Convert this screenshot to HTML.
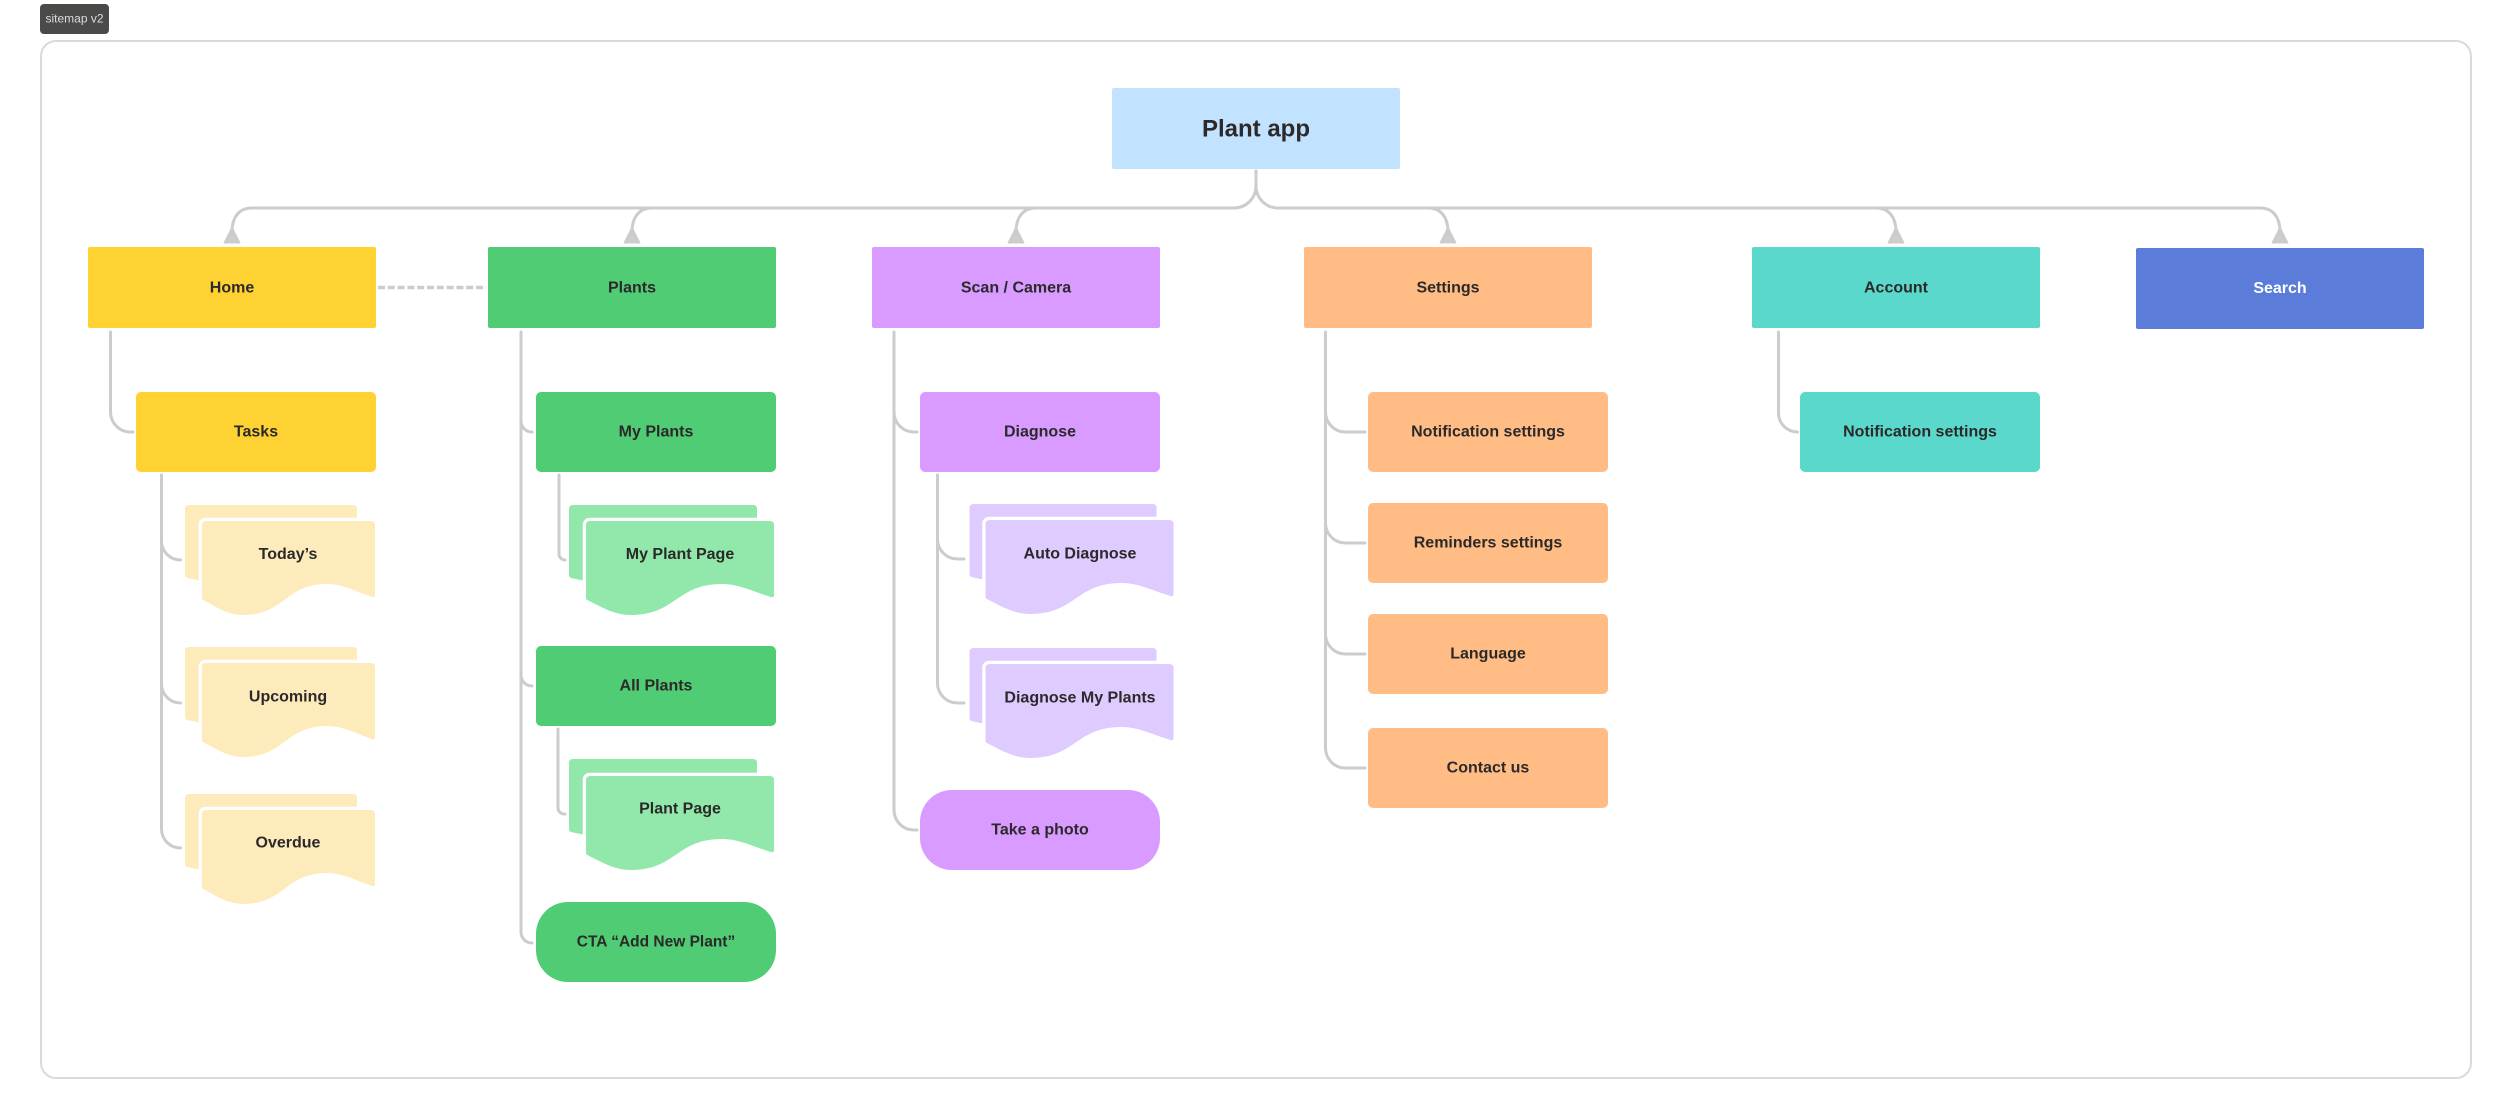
<!DOCTYPE html>
<html>
<head>
<meta charset="utf-8">
<title>Plant app sitemap</title>
<style>
html,body{margin:0;padding:0;background:#fff;width:2512px;height:1120px;overflow:hidden}
svg{display:block}
text{font-family:"Liberation Sans",sans-serif;font-weight:700;font-size:16px;fill:#2b2929;text-anchor:middle;dominant-baseline:central}
.c{fill:none;stroke:#cdcccd;stroke-width:3;stroke-linecap:round}
.a{fill:#cdcccd;stroke:#cdcccd;stroke-width:1;stroke-linejoin:round}
.f{stroke:#fff;stroke-width:6.5;paint-order:stroke;vector-effect:non-scaling-stroke}
</style>
</head>
<body>
<svg width="2512" height="1120" viewBox="0 0 2512 1120" xmlns="http://www.w3.org/2000/svg">
<rect x="40" y="4" width="69" height="30" rx="4" fill="#4a4a48"/>
<text x="74.5" y="18.500" style="font-weight:400;font-size:12px;fill:#dedbe2">sitemap v2</text>
<rect x="41" y="41" width="2430" height="1037" rx="15" fill="#fff" stroke="#dadada" stroke-width="2"/>

<!-- top connectors -->
<path class="c" d="M1256 171V186A22 22 0 0 1 1234 208H252C240 208 232 216 232 232"/>
<path class="c" d="M652 208C640 208 632 216 632 232"/>
<path class="c" d="M1036 208C1024 208 1016 216 1016 232"/>
<path class="c" d="M1256 186A22 22 0 0 0 1278 208H2260C2272 208 2280 216 2280 232"/>
<path class="c" d="M1428 208C1440 208 1448 216 1448 232"/>
<path class="c" d="M1876 208C1888 208 1896 216 1896 232"/>
<path class="a" d="M232 227L240 243H224Z"/>
<path class="a" d="M632 227L640 243H624Z"/>
<path class="a" d="M1016 227L1024 243H1008Z"/>
<path class="a" d="M1448 227L1456 243H1440Z"/>
<path class="a" d="M1896 227L1904 243H1888Z"/>
<path class="a" d="M2280 227L2288 243H2272Z"/>
<path d="M378 287.500H486" fill="none" stroke="#cdcccd" stroke-width="3.500" stroke-dasharray="7 2.800"/>

<!-- tree connectors -->
<path class="c" d="M110.500 332V412A20 20 0 0 0 130.500 432H133"/>
<path class="c" d="M521 332V932A11 11 0 0 0 532 943"/>
<path class="c" d="M521 421A11 11 0 0 0 532 432"/>
<path class="c" d="M521 675A11 11 0 0 0 532 686"/>
<path class="c" d="M161.500 475V829A19 19 0 0 0 180.500 848"/>
<path class="c" d="M161.500 541A19 19 0 0 0 180.500 560"/>
<path class="c" d="M161.500 684A19 19 0 0 0 180.500 703"/>
<path class="c" d="M559 475V554A6 6 0 0 0 565 560"/>
<path class="c" d="M558 729V808A6 6 0 0 0 564 814H565"/>
<path class="c" d="M894 332V810A20 20 0 0 0 914 830H917"/>
<path class="c" d="M894 412A20 20 0 0 0 914 432H917"/>
<path class="c" d="M937.500 475V683A20 20 0 0 0 957.500 703H964"/>
<path class="c" d="M937.500 539A20 20 0 0 0 957.500 559H964"/>
<path class="c" d="M1325.500 332V748A20 20 0 0 0 1345.500 768H1365"/>
<path class="c" d="M1325.500 412A20 20 0 0 0 1345.500 432H1365"/>
<path class="c" d="M1325.500 523A20 20 0 0 0 1345.500 543H1365"/>
<path class="c" d="M1325.500 634A20 20 0 0 0 1345.500 654H1365"/>
<path class="c" d="M1778.500 332V413A19 19 0 0 0 1797.500 432"/>

<!-- root -->
<rect x="1112" y="88" width="288" height="81" rx="2" fill="#c2e3ff"/>
<text x="1256" y="129" style="font-size:24px">Plant app</text>

<!-- level 1 -->
<rect x="88" y="247" width="288" height="81" rx="2" fill="#ffd233"/>
<text x="232" y="288">Home</text>
<rect x="488" y="247" width="288" height="81" rx="2" fill="#4fcc74"/>
<text x="632" y="288">Plants</text>
<rect x="872" y="247" width="288" height="81" rx="2" fill="#d99bff"/>
<text x="1016" y="288">Scan / Camera</text>
<rect x="1304" y="247" width="288" height="81" rx="2" fill="#ffbd85"/>
<text x="1448" y="288">Settings</text>
<rect x="1752" y="247" width="288" height="81" rx="2" fill="#5ad8cc"/>
<text x="1896" y="288">Account</text>
<rect x="2136" y="248" width="288" height="81" rx="2" fill="#5b7dd9"/>
<text x="2280" y="288.500" style="fill:#fff">Search</text>

<!-- level 2 -->
<rect x="136" y="392" width="240" height="80" rx="5" fill="#ffd233"/>
<text x="256" y="432">Tasks</text>
<rect x="536" y="392" width="240" height="80" rx="5" fill="#4fcc74"/>
<text x="656" y="432">My Plants</text>
<rect x="536" y="646" width="240" height="80" rx="5" fill="#4fcc74"/>
<text x="656" y="686">All Plants</text>
<rect x="536" y="902" width="240" height="80" rx="32" fill="#4fcc74"/>
<text x="656" y="942" style="font-size:15.500px">CTA “Add New Plant”</text>
<rect x="920" y="392" width="240" height="80" rx="5" fill="#d99bff"/>
<text x="1040" y="432">Diagnose</text>
<rect x="920" y="790" width="240" height="80" rx="32" fill="#d99bff"/>
<text x="1040" y="830">Take a photo</text>
<rect x="1368" y="392" width="240" height="80" rx="5" fill="#ffbd85"/>
<text x="1488" y="432">Notification settings</text>
<rect x="1368" y="503" width="240" height="80" rx="5" fill="#ffbd85"/>
<text x="1488" y="543">Reminders settings</text>
<rect x="1368" y="614" width="240" height="80" rx="5" fill="#ffbd85"/>
<text x="1488" y="654">Language</text>
<rect x="1368" y="728" width="240" height="80" rx="5" fill="#ffbd85"/>
<text x="1488" y="768">Contact us</text>
<rect x="1800" y="392" width="240" height="80" rx="5" fill="#5ad8cc"/>
<text x="1920" y="432">Notification settings</text>

<!-- yellow stacks -->
<path fill="#feebbc" d="M185 509Q185 505 189 505H353Q357 505 357 509V570H206V582L187 578Q185 577 185 575Z"/>
<path class="f" fill="#feebbc" transform="translate(202 521)" d="M0 4Q0 0 4 0H169Q173 0 173 4V74Q173 77 170 76C150 69 140 63 125 63C83 63 83 94 41 94C25 94 13 85 1 79Q0 78.500 0 76Z"/>
<text x="288" y="554.500">Today’s</text>
<path fill="#feebbc" d="M185 651Q185 647 189 647H353Q357 647 357 651V712H206V724L187 720Q185 719 185 717Z"/>
<path class="f" fill="#feebbc" transform="translate(202 663)" d="M0 4Q0 0 4 0H169Q173 0 173 4V74Q173 77 170 76C150 69 140 63 125 63C83 63 83 94 41 94C25 94 13 85 1 79Q0 78.500 0 76Z"/>
<text x="288" y="697">Upcoming</text>
<path fill="#feebbc" d="M185 798Q185 794 189 794H353Q357 794 357 798V859H206V871L187 867Q185 866 185 864Z"/>
<path class="f" fill="#feebbc" transform="translate(202 810)" d="M0 4Q0 0 4 0H169Q173 0 173 4V74Q173 77 170 76C150 69 140 63 125 63C83 63 83 94 41 94C25 94 13 85 1 79Q0 78.500 0 76Z"/>
<text x="288" y="843">Overdue</text>

<!-- green stacks -->
<path fill="#91e8aa" d="M569 509Q569 505 573 505H753Q757 505 757 509V570H590V582L571 578Q569 577 569 575Z"/>
<path class="f" fill="#91e8aa" transform="translate(586 521) scale(1.087 1)" d="M0 4Q0 0 4 0H169Q173 0 173 4V74Q173 77 170 76C150 69 140 63 125 63C83 63 83 94 41 94C25 94 13 85 1 79Q0 78.500 0 76Z"/>
<text x="680" y="554.500">My Plant Page</text>
<path fill="#91e8aa" d="M569 763Q569 759 573 759H753Q757 759 757 763V824H590V836L571 832Q569 831 569 829Z"/>
<path class="f" fill="#91e8aa" transform="translate(586 776) scale(1.087 1)" d="M0 4Q0 0 4 0H169Q173 0 173 4V74Q173 77 170 76C150 69 140 63 125 63C83 63 83 94 41 94C25 94 13 85 1 79Q0 78.500 0 76Z"/>
<text x="680" y="809">Plant Page</text>

<!-- purple stacks -->
<path fill="#decbff" d="M969.500 508Q969.500 504 973.500 504H1152.500Q1156.500 504 1156.500 508V569H990V581L971.500 577Q969.500 576 969.500 574Z"/>
<path class="f" fill="#decbff" transform="translate(985.500 520) scale(1.087 1)" d="M0 4Q0 0 4 0H169Q173 0 173 4V74Q173 77 170 76C150 69 140 63 125 63C83 63 83 94 41 94C25 94 13 85 1 79Q0 78.500 0 76Z"/>
<text x="1080" y="554">Auto Diagnose</text>
<path fill="#decbff" d="M969.500 652Q969.500 648 973.500 648H1152.500Q1156.500 648 1156.500 652V713H990V725L971.500 721Q969.500 720 969.500 718Z"/>
<path class="f" fill="#decbff" transform="translate(985.500 664) scale(1.087 1)" d="M0 4Q0 0 4 0H169Q173 0 173 4V74Q173 77 170 76C150 69 140 63 125 63C83 63 83 94 41 94C25 94 13 85 1 79Q0 78.500 0 76Z"/>
<text x="1080" y="698">Diagnose My Plants</text>
</svg>
</body>
</html>
